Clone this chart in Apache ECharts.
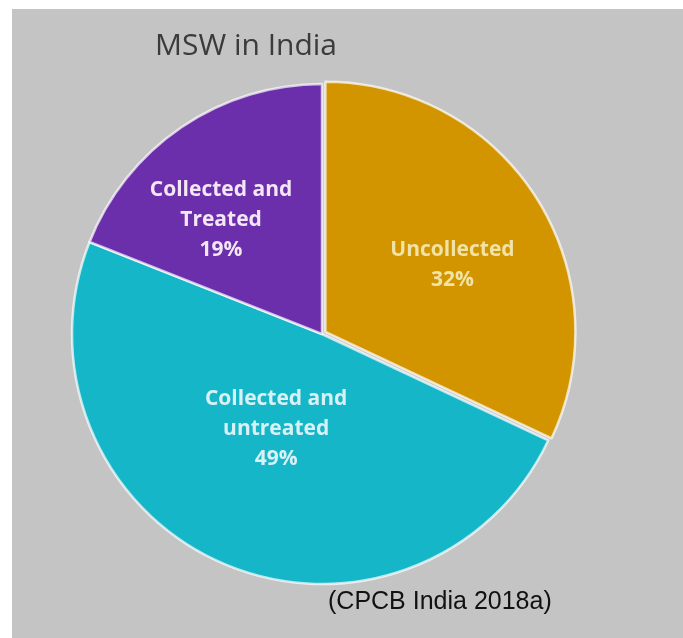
<!DOCTYPE html>
<html>
<head>
<meta charset="utf-8">
<title>MSW in India</title>
<script src="https://cdn.jsdelivr.net/npm/echarts@6/dist/echarts.min.js"></script>
<style>
  html, body { margin: 0; padding: 0; background: #fff; }
  #chart { position: absolute; left: 12px; top: 9px; width: 671px; height: 629px; }
</style>
</head>
<body>
<div id="chart"></div>
<script>
// data
var categories = ["Uncollected", "Collected and untreated", "Collected and Treated"];
var shares = [32, 49, 19];
var sliceColors = ["#d29500", "#16b6c9", "#6b2fab"];
var labelColors = ["#f1e2a6", "#d9f1f5", "#f3e6f5"];
// nudge of each label from its default spot (px)
var labelShift = [[19, 2], [5, -22], [-29, -8]];

var myChart = echarts.init(document.getElementById("chart"));

var option = {
  backgroundColor: "#c4c4c4",
  animation: false,
  title: {
    text: "MSW in India",
    left: 234,
    top: 22,
    padding: 0,
    textAlign: "center",
    textStyle: {
      fontFamily: "Open Sans",
      fontSize: 30,
      fontWeight: "normal",
      color: "#3b3b3b",
    },
  },
  graphic: [
    {
      type: "text",
      left: 316,
      top: 581,
      style: {
        text: "(CPCB India 2018a)",
        font: "25px 'Liberation Sans'",
        fill: "#111",
      },
    },
  ],
  series: [
    {
      type: "pie",
      center: [310, 325],
      radius: 250,
      startAngle: 90,
      clockwise: true,
      selectedMode: "single",
      selectedOffset: 4,
      avoidLabelOverlap: false,
      itemStyle: {
        borderColor: "rgba(255,255,255,0.7)",
        borderWidth: 2.5,
      },
      label: {
        show: true,
        position: "inside",
        fontFamily: "Open Sans",
        fontWeight: "bold",
        fontSize: 21,
        lineHeight: 30,
        align: "center",
        formatter: function (p) {
          return p.name.replace("and ", "and\n") + "\n" + p.value + "%";
        },
      },
      labelLine: { show: false },
      labelLayout: function (params) {
        var s = labelShift[params.dataIndex];
        return { dx: s[0], dy: s[1] };
      },
      emphasis: { disabled: true },
      data: categories.map(function (name, i) {
        return {
          name: name,
          value: shares[i],
          selected: i === 0,
          itemStyle: { color: sliceColors[i] },
          label: { color: labelColors[i] },
        };
      }),
    },
  ],
};

option && myChart.setOption(option);
</script>
</body>
</html>
